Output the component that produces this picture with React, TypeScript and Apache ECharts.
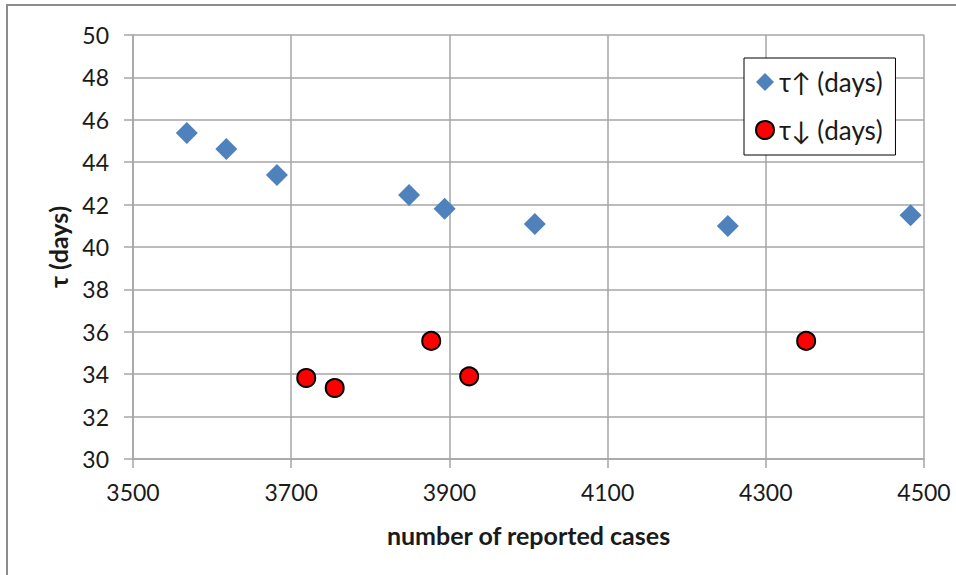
import React, { useEffect, useRef } from "react";
import * as echarts from "echarts";

const upCases = [3568, 3618, 3682, 3849, 3894, 4008, 4252, 4483];
const upTau = [45.38, 44.62, 43.4, 42.45, 41.8, 41.08, 40.99, 41.5];
const downCases = [3719, 3755, 3877, 3925, 4351];
const downTau = [33.82, 33.35, 35.57, 33.9, 35.57];
const upName = "τ↑ (days)";
const downName = "τ↓ (days)";

const FONT = "Lato, 'Open Sans', sans-serif";

export default function App() {
  const ref = useRef<HTMLDivElement>(null);
  useEffect(() => {
    const chart = echarts.init(ref.current!, null, { renderer: "svg" });
    chart.setOption({
      animation: false,
      backgroundColor: "#ffffff",
      textStyle: { fontFamily: FONT },
      grid: { left: 133, top: 35, width: 791, height: 424, containLabel: false },
      graphic: [
        { type: "line", shape: { x1: 7, y1: 5, x2: 7, y2: 580 }, style: { stroke: "#8c8c8c", lineWidth: 2 } },
        { type: "line", shape: { x1: 6, y1: 5, x2: 960, y2: 5 }, style: { stroke: "#8c8c8c", lineWidth: 2 } },
      ],
      xAxis: {
        type: "value",
        min: 3500,
        max: 4500,
        interval: 200,
        name: "number of reported cases",
        nameLocation: "middle",
        nameGap: 63,
        nameTextStyle: { fontFamily: FONT, fontWeight: "bold", fontSize: 25, color: "#1a1a1a" },
        axisLine: { show: true, lineStyle: { color: "#a6a6a6", width: 1.5 } },
        axisTick: { show: true, length: 9, inside: false, lineStyle: { color: "#a6a6a6", width: 1.5 } },
        axisLabel: { fontFamily: FONT, fontSize: 23, color: "#1a1a1a", margin: 21, formatter: (v: number) => String(v) },
        splitLine: { show: true, lineStyle: { color: "#a6a6a6", width: 1.5 } },
      },
      yAxis: {
        type: "value",
        min: 30,
        max: 50,
        interval: 2,
        name: "τ (days)",
        nameLocation: "middle",
        nameGap: 63,
        nameRotate: 90,
        nameTextStyle: { fontFamily: FONT, fontWeight: "bold", fontSize: 25, color: "#1a1a1a" },
        axisLine: { show: true, lineStyle: { color: "#a6a6a6", width: 1.5 } },
        axisTick: { show: true, length: 9, inside: false, lineStyle: { color: "#a6a6a6", width: 1.5 } },
        axisLabel: { fontFamily: FONT, fontSize: 23, color: "#1a1a1a", margin: 24 },
        splitLine: { show: true, lineStyle: { color: "#a6a6a6", width: 1.5 } },
      },
      legend: {
        orient: "vertical",
        left: 744,
        top: 58,
        padding: [11, 14, 12, 11],
        itemGap: 22,
        itemWidth: 18,
        itemHeight: 18,
        borderColor: "#000000",
        borderWidth: 1,
        backgroundColor: "#ffffff",
        textStyle: { fontFamily: FONT, fontSize: 26, color: "#1a1a1a" },
        data: [
          { name: upName, icon: "diamond", itemStyle: { color: "#4f81bd", borderWidth: 0 } },
          { name: downName, icon: "circle", itemStyle: { color: "#ff0000", borderColor: "#000", borderWidth: 2 } },
        ],
      },
      series: [
        {
          name: upName,
          type: "scatter",
          symbol: "diamond",
          symbolSize: 22,
          itemStyle: { color: "#4f81bd", opacity: 1 },
          data: upCases.map((x, i) => [x, upTau[i]]),
        },
        {
          name: downName,
          type: "scatter",
          symbol: "circle",
          symbolSize: 18,
          itemStyle: { color: "#ff0000", borderColor: "#000000", borderWidth: 2, opacity: 1 },
          data: downCases.map((x, i) => [x, downTau[i]]),
        },
      ],
    });
    return () => chart.dispose();
  }, []);
  return (
    <div
      ref={ref}
      style={{ position: "fixed", left: 0, top: 0, width: 956, height: 575 }}
    />
  );
}
